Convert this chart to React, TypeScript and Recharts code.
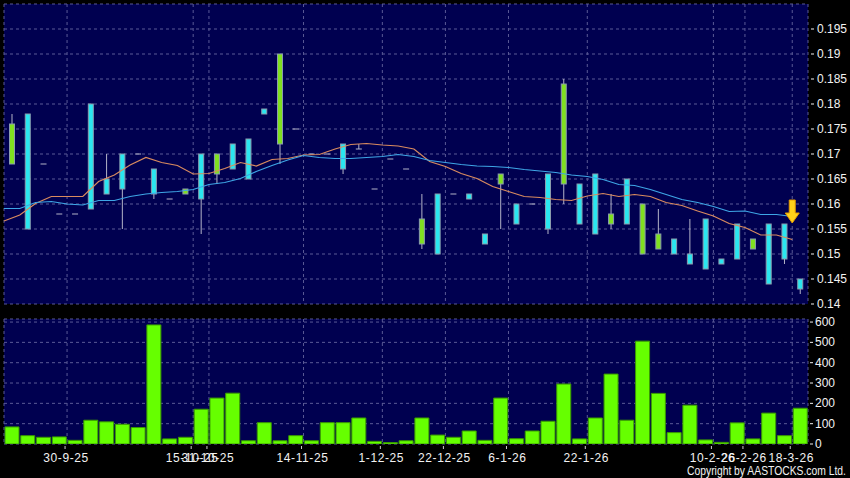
import React from "react";
import {
  ComposedChart,
  Bar,
  Line,
  XAxis,
  YAxis,
  CartesianGrid,
  ReferenceDot,
} from "recharts";

// ---- data ----
const opens = [
  0.176, 0.155, 0.168, 0.158, 0.158, 0.159, 0.162, 0.163, 0.17, 0.162,
  0.161, 0.163, 0.161, 0.17, 0.167, 0.165, 0.178, 0.19, 0.175, 0.17,
  0.17, 0.167, 0.171, 0.163, 0.169, 0.167, 0.157, 0.15, 0.162, 0.161,
  0.152, 0.166, 0.156, 0.16, 0.155, 0.184, 0.156, 0.154, 0.158, 0.156,
  0.16, 0.154, 0.15, 0.148, 0.147, 0.148, 0.149, 0.153, 0.144, 0.149,
  0.143,
];
const highs = [
  0.178, 0.178, 0.168, 0.158, 0.158, 0.18, 0.17, 0.17, 0.17, 0.167,
  0.161, 0.163, 0.17, 0.17, 0.172, 0.173, 0.179, 0.19, 0.175, 0.17,
  0.17, 0.172, 0.172, 0.163, 0.169, 0.167, 0.162, 0.162, 0.162, 0.162,
  0.154, 0.166, 0.16, 0.16, 0.166, 0.185, 0.164, 0.166, 0.162, 0.165,
  0.16, 0.159, 0.153, 0.157, 0.157, 0.149, 0.156, 0.153, 0.156, 0.156,
  0.145,
];
const lows = [
  0.168, 0.155, 0.168, 0.158, 0.158, 0.159, 0.162, 0.155, 0.17, 0.161,
  0.161, 0.162, 0.154, 0.164, 0.167, 0.165, 0.178, 0.168, 0.175, 0.17,
  0.17, 0.166, 0.171, 0.163, 0.169, 0.167, 0.151, 0.15, 0.162, 0.161,
  0.152, 0.155, 0.156, 0.16, 0.154, 0.16, 0.156, 0.154, 0.155, 0.156,
  0.15, 0.151, 0.15, 0.148, 0.147, 0.148, 0.149, 0.151, 0.144, 0.148,
  0.142,
];
const closes = [
  0.168, 0.178, 0.168, 0.158, 0.158, 0.18, 0.165, 0.17, 0.17, 0.167,
  0.161, 0.162, 0.17, 0.166, 0.172, 0.173, 0.179, 0.172, 0.175, 0.17,
  0.17, 0.172, 0.171, 0.163, 0.169, 0.167, 0.152, 0.162, 0.162, 0.162,
  0.154, 0.164, 0.16, 0.16, 0.166, 0.164, 0.164, 0.166, 0.156, 0.165,
  0.15, 0.151, 0.153, 0.15, 0.157, 0.149, 0.156, 0.151, 0.156, 0.156,
  0.145,
];
const volumes = [
  84, 41, 33, 35, 18, 117, 109, 97, 81, 586,
  25, 33, 171, 226, 250, 16, 105, 16, 41, 16,
  105, 105, 128, 13, 7, 16, 128, 44, 33, 64,
  18, 226, 26, 64, 112, 295, 25, 128, 344, 117,
  506, 249, 56, 191, 20, 8, 104, 25, 152, 41,
  176,
];
const ma10 = [
  0.1566, 0.1578, 0.1601, 0.1615, 0.1615, 0.1615, 0.1645, 0.1658, 0.1678, 0.1693,
  0.1683, 0.1677, 0.166, 0.1661, 0.1671, 0.1683, 0.1676, 0.1689, 0.1691, 0.1698,
  0.1699, 0.171, 0.1719, 0.1721, 0.1718, 0.1716, 0.171, 0.1685, 0.1675, 0.1661,
  0.1651, 0.1635, 0.1625, 0.1615, 0.1613, 0.1609, 0.1607, 0.1616, 0.1621, 0.1615,
  0.1619, 0.1615, 0.1603, 0.1597, 0.1586, 0.1576, 0.1561, 0.1553, 0.1538, 0.1538,
  0.1529,
];
const ma20 = [
  0.1591, 0.1591, 0.1603, 0.1605, 0.16, 0.1598, 0.1607, 0.1607, 0.1615, 0.162,
  0.1623, 0.1625, 0.1629, 0.1639, 0.1643, 0.1651, 0.1665, 0.1677, 0.1688, 0.1697,
  0.1693, 0.1691, 0.1691, 0.1693, 0.1695, 0.1699, 0.1695, 0.1687, 0.1683, 0.1679,
  0.1676, 0.1675, 0.1673, 0.1669, 0.1666, 0.1663, 0.1658, 0.1655, 0.1649, 0.1639,
  0.1637, 0.1629, 0.1619, 0.1609, 0.1603, 0.1595, 0.1585, 0.1586, 0.1579, 0.1579,
  0.1575,
];
const tickIndex = [4, 12, 13, 19, 24, 28, 32, 37, 45, 47, 50];
const tickLabels = [
  "30-9-25", "15-10-25", "31-10-25", "14-11-25", "1-12-25", "22-12-25",
  "6-1-26", "22-1-26", "10-2-26", "26-2-26", "18-3-26",
];
const priceTicks = [0.14, 0.145, 0.15, 0.155, 0.16, 0.165, 0.17, 0.175, 0.18, 0.185, 0.19, 0.195];
const volumeTicks = [0, 100, 200, 300, 400, 500, 600];
const arrowIndex = 50;
const arrowPrice = 0.1562;
const copyrightText = "Copyright by AASTOCKS.com Ltd.";

const rows = opens.map((o, i) => ({
  i,
  open: o,
  high: highs[i],
  low: lows[i],
  close: closes[i],
  range: [lows[i], highs[i]],
  volume: volumes[i],
  ma10: ma10[i],
  ma20: ma20[i],
}));

// ---- styles ----
const FONT = "'Liberation Sans', Arial, sans-serif";
const NAVY = "#000050";
const GRID = "#5a5a96";
const UP = "#2ae6f0";
const DOWN = "#80e020";
const TEXT = "#f2f2f2";

const Candle = (props: any) => {
  const { payload } = props;
  if (!payload) return null;
  const x = Number(props.x);
  const y = Number(props.y);
  const width = Number(props.width);
  const height = Number(props.height) || 0;
  const { open, close, high, low } = payload;
  const cx = x + width / 2;
  const top = Math.min(y, y + height);
  const h = Math.abs(height);
  const span = high - low;
  const toY = (v: number) => (span > 0 ? top + ((high - v) / span) * h : top);
  const yHigh = toY(high);
  const yLow = toY(low);
  const yO = toY(open);
  const yC = toY(close);
  const bTop = Math.min(yO, yC);
  const bBot = Math.max(yO, yC);
  const bw = 5;
  if (open === close) {
    return (
      <g>
        {yLow - yHigh > 0.5 && (
          <line x1={cx} x2={cx} y1={yHigh} y2={yLow} stroke="#b4b4c8" strokeWidth={1} />
        )}
        <line x1={cx - 3} x2={cx + 3} y1={yO} y2={yO} stroke="#b4b4c8" strokeWidth={1} />
      </g>
    );
  }
  return (
    <g>
      <line x1={cx} x2={cx} y1={yHigh} y2={yLow} stroke="#b4b4c8" strokeWidth={1} />
      <rect
        x={cx - bw / 2}
        y={bTop}
        width={bw}
        height={bBot - bTop}
        fill={close > open ? UP : DOWN}
        stroke="#8a9cae"
        strokeWidth={1}
      />
    </g>
  );
};

const Arrow = (props: any) => {
  const cx = Number(props.cx);
  const cy = Number(props.cy);
  const d = `M ${cx - 3} ${cy - 23} L ${cx + 3} ${cy - 23} L ${cx + 3} ${cy - 10} L ${cx + 7} ${cy - 10} L ${cx} ${cy} L ${cx - 7} ${cy - 10} L ${cx - 3} ${cy - 10} Z`;
  return <path d={d} fill="#ffd21a" stroke="#e49a00" strokeWidth={1} />;
};

const PriceTick = (props: any) => {
  const x = Number(props.x);
  const y = Number(props.y);
  return (
    <g>
      <line x1={x + 3} x2={x + 6} y1={y} y2={y} stroke={TEXT} strokeWidth={1} />
      <text x={x + 9} y={y + 4} fill={TEXT} fontSize={12} fontFamily={FONT}>
        {String(props.payload.value)}
      </text>
    </g>
  );
};

const VolTick = (props: any) => {
  const x = Number(props.x);
  const y = Number(props.y);
  return (
    <g>
      <line x1={x + 2} x2={x + 5} y1={y} y2={y} stroke={TEXT} strokeWidth={1} />
      <text x={x + 7} y={y + 4} fill={TEXT} fontSize={12} fontFamily={FONT}>
        {String(props.payload.value)}
      </text>
    </g>
  );
};

const DateTick = (props: any) => {
  const x = Number(props.x);
  const y = Number(props.y);
  const k = tickIndex.indexOf(Number(props.payload.value));
  const label = k >= 0 ? tickLabels[k] : "";
  return (
    <g>
      <line x1={x - 2} x2={x - 2} y1={y + 2} y2={y + 5} stroke="#cccccc" strokeWidth={1} />
      <text
        x={x - 1}
        y={y + 18}
        textAnchor="middle"
        fill={TEXT}
        fontSize={12}
        letterSpacing={0.6}
        fontFamily={FONT}
      >
        {label}
      </text>
    </g>
  );
};

export default function App() {
  return (
    <div
      style={{
        position: "absolute",
        left: 0,
        top: 0,
        width: 850,
        height: 478,
        background: "#000",
        overflow: "hidden",
      }}
    >
      <div style={{ position: "absolute", left: 0, top: 0 }}>
        <ComposedChart
          width={850}
          height={310}
          data={rows}
          margin={{ top: 4, right: 0, bottom: 6, left: 4 }}
          barCategoryGap={0}
        >
          <CartesianGrid
            xAxisId="num"
            stroke={GRID}
            strokeDasharray="3 3"
            fill={NAVY}
            fillOpacity={1}
          />
          <XAxis
            xAxisId="num"
            dataKey="i"
            type="number"
            domain={[0, 51]}
            ticks={tickIndex}
            interval={0}
            height={0}
            hide
          />
          <XAxis xAxisId="cat" dataKey="i" type="category" height={0} hide />
          <YAxis
            orientation="right"
            width={42}
            domain={[0.14, 0.2]}
            ticks={priceTicks}
            interval={0}
            allowDataOverflow
            axisLine={false}
            tickLine={false}
            tickSize={0}
            tickMargin={0}
            tick={<PriceTick />}
          />
          <Line
            xAxisId="num"
            dataKey="ma10"
            stroke="#d98b5f"
            strokeWidth={1.2}
            dot={false}
            isAnimationActive={false}
          />
          <Line
            xAxisId="num"
            dataKey="ma20"
            stroke="#3ea6e6"
            strokeWidth={1.2}
            dot={false}
            isAnimationActive={false}
          />
          <Bar
            xAxisId="cat"
            dataKey="range"
            barSize={6}
            shape={<Candle />}
            isAnimationActive={false}
          />
          <ReferenceDot
            xAxisId="num"
            x={arrowIndex}
            y={arrowPrice}
            shape={<Arrow />}
          />
        </ComposedChart>
      </div>
      <div style={{ position: "absolute", left: 0, top: 310 }}>
        <ComposedChart
          width={850}
          height={168}
          data={rows}
          margin={{ top: 9, right: 0, bottom: 0, left: 4 }}
        >
          <CartesianGrid
            xAxisId="num"
            stroke={GRID}
            strokeDasharray="3 3"
            fill={NAVY}
            fillOpacity={1}
          />
          <XAxis
            xAxisId="num"
            dataKey="i"
            type="number"
            domain={[0, 51]}
            ticks={tickIndex}
            interval={0}
            height={34}
            axisLine={false}
            tickLine={false}
            tickSize={0}
            tickMargin={0}
            tick={<DateTick />}
          />
          <XAxis xAxisId="cat" dataKey="i" type="category" height={0} hide />
          <YAxis
            orientation="right"
            width={42}
            domain={[0, 615]}
            ticks={volumeTicks}
            interval={0}
            allowDataOverflow
            axisLine={false}
            tickLine={false}
            tickSize={0}
            tickMargin={0}
            tick={<VolTick />}
          />
          <Bar
            xAxisId="cat"
            dataKey="volume"
            barSize={14}
            fill="#66ff00"
            stroke="#3a9a00"
            strokeWidth={1}
            isAnimationActive={false}
          />
        </ComposedChart>
      </div>
      <svg
        width={850}
        height={478}
        style={{ position: "absolute", left: 0, top: 0, pointerEvents: "none" }}
      >
        <text
          x={846}
          y={475}
          textAnchor="end"
          fill={TEXT}
          fontSize={12}
          fontFamily={FONT}
          textLength={159}
          lengthAdjust="spacingAndGlyphs"
        >
          {copyrightText}
        </text>
      </svg>
    </div>
  );
}
